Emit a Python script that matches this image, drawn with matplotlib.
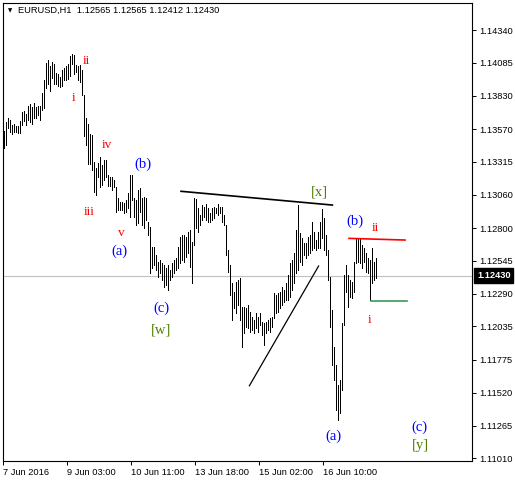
import matplotlib
matplotlib.use("Agg")
import matplotlib.pyplot as plt
import matplotlib.transforms as mtransforms
import numpy as np

# EURUSD H1 bars (high / low)
highs = [
    1.13555, 1.13624, 1.13656, 1.13640, 1.13601, 1.13609, 1.13593, 1.13593, 1.13632, 1.13702,
    1.13710, 1.13687, 1.13749, 1.13765, 1.13742, 1.13773, 1.13742, 1.13749, 1.13749, 1.13850,
    1.13951, 1.14084, 1.14107, 1.14060, 1.14091, 1.14076, 1.14006, 1.13998, 1.13975, 1.14029,
    1.14045, 1.14060, 1.14076, 1.14138, 1.14153, 1.14146, 1.14068, 1.14060, 1.14068, 1.14029,
    1.13835, 1.13656, 1.13609, 1.13532, 1.13524, 1.13314,
    1.13268, 1.13307, 1.13353, 1.13291, 1.13330, 1.13330, 1.13213, 1.13198, 1.13198, 1.13174,
    1.13120, 1.13034, 1.13002, 1.13002, 1.12995, 1.13018, 1.13073, 1.13213, 1.13213, 1.13034,
    1.13018, 1.13096, 1.13112, 1.13034, 1.13041, 1.13034, 1.12847, 1.12808, 1.12653, 1.12653,
    1.12591, 1.12536, 1.12552, 1.12529, 1.12513, 1.12490, 1.12513, 1.12474, 1.12529, 1.12552,
    1.12567, 1.12653, 1.12730, 1.12746, 1.12746, 1.12730, 1.12769, 1.12785,
    1.12692, 1.13034, 1.13026, 1.12956, 1.12902, 1.12980, 1.12964, 1.12987, 1.12956, 1.12918,
    1.12956, 1.12964, 1.12956, 1.12987, 1.12964, 1.12964, 1.12902, 1.12824, 1.12630, 1.12513,
    1.12373, 1.12303, 1.12381, 1.12396, 1.12412, 1.12186, 1.12186, 1.12178, 1.12202, 1.12147,
    1.12108, 1.12085, 1.12140, 1.12108, 1.12140, 1.12070, 1.12062, 1.12070, 1.12085, 1.12101,
    1.12108, 1.12295, 1.12280, 1.12295, 1.12303, 1.12341, 1.12318,
    1.12373, 1.12435, 1.12529, 1.12552, 1.12607, 1.12785, 1.12980, 1.12762, 1.12723, 1.12684,
    1.12684, 1.12730, 1.12746, 1.12847, 1.12769, 1.12707, 1.12769, 1.12847, 1.12949, 1.12878,
    1.12746, 1.12630, 1.12419, 1.12163, 1.11875, 1.11735, 1.11580, 1.11618, 1.12062, 1.12435,
    1.12513, 1.12435, 1.12396, 1.12381, 1.12536, 1.12723, 1.12723, 1.12723, 1.12668, 1.12645,
    1.12607, 1.12567, 1.12552, 1.12645, 1.12536, 1.12565,
]
lows = [
    1.13423, 1.13446, 1.13578, 1.13547, 1.13532, 1.13547, 1.13547, 1.13540, 1.13540, 1.13601,
    1.13632, 1.13601, 1.13640, 1.13624, 1.13609, 1.13656, 1.13656, 1.13679, 1.13640, 1.13718,
    1.13734, 1.13889, 1.13920, 1.13866, 1.13967, 1.13920, 1.13920, 1.13904, 1.13897, 1.13904,
    1.13951, 1.13951, 1.13959, 1.13982, 1.14076, 1.13998, 1.14013, 1.13951, 1.13935, 1.13835,
    1.13516, 1.13446, 1.13299, 1.13299, 1.13252, 1.13080,
    1.13057, 1.13198, 1.13120, 1.13135, 1.13174, 1.13198, 1.13127, 1.13127, 1.13096, 1.13120,
    1.12925, 1.12941, 1.12941, 1.12941, 1.12918, 1.12925, 1.12956, 1.12886, 1.13018, 1.12886,
    1.12824, 1.12840, 1.12925, 1.12824, 1.12801, 1.12863, 1.12746, 1.12451, 1.12490, 1.12513,
    1.12474, 1.12419, 1.12451, 1.12396, 1.12341, 1.12357, 1.12318, 1.12396, 1.12419, 1.12451,
    1.12474, 1.12490, 1.12529, 1.12552, 1.12536, 1.12575, 1.12607, 1.12497,
    1.12373, 1.12668, 1.12801, 1.12769, 1.12824, 1.12863, 1.12886, 1.12863, 1.12847, 1.12847,
    1.12863, 1.12878, 1.12918, 1.12902, 1.12918, 1.12847, 1.12824, 1.12591, 1.12459, 1.12280,
    1.12085, 1.12178, 1.12140, 1.12202, 1.12085, 1.11875, 1.11984, 1.12031, 1.12023, 1.11992,
    1.12007, 1.11984, 1.12023, 1.11992, 1.12046, 1.11968, 1.11891, 1.11984, 1.12007, 1.11992,
    1.12031, 1.12101, 1.12140, 1.12147, 1.12178, 1.12202, 1.12225,
    1.12241, 1.12241, 1.12264, 1.12318, 1.12373, 1.12451, 1.12474, 1.12536, 1.12513, 1.12591,
    1.12567, 1.12591, 1.12607, 1.12630, 1.12645, 1.12630, 1.12645, 1.12645, 1.12723, 1.12630,
    1.12591, 1.12396, 1.12031, 1.11735, 1.11618, 1.11385, 1.11307, 1.11362, 1.11541, 1.12046,
    1.12303, 1.12186, 1.12264, 1.12256, 1.12303, 1.12529, 1.12536, 1.12529, 1.12490, 1.12536,
    1.12459, 1.12451, 1.12241, 1.12373, 1.12396, 1.12412,
]

last_price = 1.12430
header = "EURUSD,H1  1.12565 1.12565 1.12412 1.12430"

price_ticks = [1.14340, 1.14085, 1.13830, 1.13570, 1.13315, 1.13060, 1.12800,
               1.12545, 1.12290, 1.12035, 1.11775, 1.11520, 1.11265, 1.11010]
time_tick_pos = [-0.5, 31.5, 63.5, 95.5, 127.5, 159.5]
time_tick_lbl = ["7 Jun 2016", "9 Jun 03:00", "10 Jun 11:00", "13 Jun 18:00",
                 "15 Jun 02:00", "16 Jun 10:00"]

# wave labels: text, bar index, price, colour
RED, BLUE, OLIVE = "#ff0000", "#0000ff", "#4f7f00"
wave_txt = ["ii", "i", "iv", "iii", "v", "(b)", "(a)", "(c)", "[w]", "[x]",
            "(b)", "ii", "i", "(a)", "(c)", "[y]"]
wave_x = [41.3, 34.7, 51.3, 42.7, 58.8, 69.3, 57.5, 78.5, 78.5, 157.5,
          175.5, 185.8, 182.7, 164.7, 207.7, 208.3]
wave_y = [1.14099, 1.13814, 1.13446, 1.12925, 1.12762, 1.13299, 1.12622, 1.12178,
          1.12011, 1.13083, 1.12850, 1.12801, 1.12085, 1.11178, 1.11255, 1.11108]
wave_col = [RED, RED, RED, RED, RED, BLUE, BLUE, BLUE, OLIVE, OLIVE,
            BLUE, RED, RED, BLUE, BLUE, OLIVE]

# trend lines (bar index, price)
upper_line = ([88.5, 164.2], [1.13086, 1.12979])
lower_line = ([122.7, 157.3], [1.11574, 1.12505])
red_line = ([172.5, 200.5], [1.12720, 1.12707])
green_line = ([183.5, 201.3], [1.12233, 1.12233])

W, H = 515, 482
fig = plt.figure(figsize=(W / 100, H / 100), dpi=100)
ax = fig.add_axes([3 / W, 21 / H, 469 / W, 458 / H])

idx = np.arange(len(highs))
ax.axhline(last_price, color="#c0c0c0", lw=0.8, zorder=1)
ax.vlines(idx, lows, highs, colors="black", lw=0.72, antialiased=False, zorder=3)

ax.plot(*upper_line, color="black", lw=1.2, zorder=4)
ax.plot(*lower_line, color="black", lw=0.9, zorder=4)
ax.plot(*red_line, color="#ff0000", lw=1.2, zorder=4)
ax.plot(*green_line, color="#3a9a5a", lw=1.2, zorder=4)

for t, x, y, c in zip(wave_txt, wave_x, wave_y, wave_col):
    fs = 9.5 if c == RED else 10.5
    ax.text(x, y, t, color=c, fontsize=fs, family="Liberation Serif",
            ha="center", va="center", zorder=5)

ax.set_xlim(-0.5, 234)
ax.set_ylim(1.10989, 1.14550)

ax.yaxis.tick_right()
ax.set_yticks(price_ticks)
ax.set_yticklabels([f"{v:.5f}" for v in price_ticks])
ax.set_xticks(time_tick_pos)
ax.set_xticklabels(time_tick_lbl, ha="left")
ax.tick_params(axis="both", length=3, width=0.7, color="black",
               labelsize=6.7, pad=2)
for lab in ax.get_xticklabels() + ax.get_yticklabels():
    lab.set_family("Liberation Sans")
for s in ax.spines.values():
    s.set_linewidth(0.8)
    s.set_color("black")

tr = mtransforms.blended_transform_factory(ax.transAxes, ax.transData)
ax.text(1 + 5 / 469, last_price, f"{last_price:.5f}", transform=tr, color="white",
        fontsize=6.7, family="Liberation Sans", weight="bold", ha="left", va="center",
        bbox=dict(boxstyle="square,pad=0.3", fc="black", ec="black"))

fig.text(10 / W, 1 - 10.5 / H, "\u25BC", fontsize=4, family="DejaVu Sans",
         ha="center", va="center")
fig.text(18 / W, 1 - 10 / H, header, fontsize=6.7, family="Liberation Sans",
         ha="left", va="center")

fig.savefig("out.png", dpi=100)
